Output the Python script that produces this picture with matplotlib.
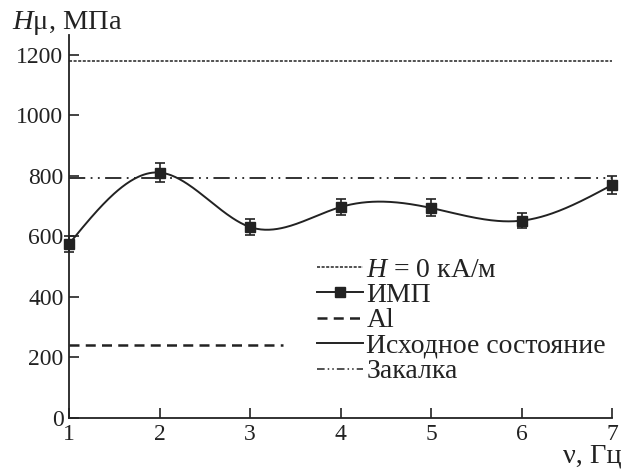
import numpy as np
import matplotlib.pyplot as plt
from matplotlib.lines import Line2D

plt.rcParams['font.family'] = ['Liberation Serif', 'DejaVu Serif']
plt.rcParams['mathtext.fontset'] = 'custom'
plt.rcParams['mathtext.rm'] = 'Liberation Serif'
plt.rcParams['mathtext.it'] = 'Liberation Serif:italic'
plt.rcParams['font.size'] = 17

# частота, Гц
freq = [1, 2, 3, 4, 5, 6, 7]
# микротвердость после ИМП, МПа
h_imp = [575, 811, 631, 697, 694, 652, 770]
h_err = [28, 31, 27, 26, 28, 25, 30]

h_zero = 1178      # H = 0 кА/м
h_quench = 792     # закалка
h_al = 241         # Al
al_range = [1, 3.36]

ink = '#222222'
big = 20.5


def natural_spline(x, y, xs):
    # натуральный кубический сплайн без scipy
    x = np.asarray(x, float)
    y = np.asarray(y, float)
    n = len(x)
    h = np.diff(x)
    A = np.zeros((n, n))
    b = np.zeros(n)
    A[0, 0] = A[-1, -1] = 1
    for i in range(1, n - 1):
        A[i, i - 1] = h[i - 1]
        A[i, i] = 2 * (h[i - 1] + h[i])
        A[i, i + 1] = h[i]
        b[i] = 3 * ((y[i + 1] - y[i]) / h[i] - (y[i] - y[i - 1]) / h[i - 1])
    c = np.linalg.solve(A, b)
    ys = np.empty_like(xs)
    for k, xv in enumerate(xs):
        i = min(max(np.searchsorted(x, xv) - 1, 0), n - 2)
        dx = xv - x[i]
        bi = (y[i + 1] - y[i]) / h[i] - h[i] * (2 * c[i] + c[i + 1]) / 3
        di = (c[i + 1] - c[i]) / (3 * h[i])
        ys[k] = y[i] + bi * dx + c[i] * dx ** 2 + di * dx ** 3
    return ys


fig = plt.figure(figsize=(6.23, 4.73), dpi=100)
ax = fig.add_axes([0.1108, 0.1163, 0.8716, 0.81])

xs = np.linspace(freq[0], freq[-1], 400)
ax.plot(xs, natural_spline(freq, h_imp, xs), color=ink, lw=1.4)
ax.errorbar(freq, h_imp, yerr=h_err, fmt='s', color=ink, ms=7,
            capsize=3.5, elinewidth=1.2, capthick=1.2, clip_on=False, zorder=5)

ax.plot([freq[0], freq[-1]], [h_zero, h_zero], color=ink, lw=1.1,
        dashes=(2, 1))
ax.plot([freq[0], freq[-1]], [h_quench, h_quench], color=ink, lw=1.3,
        dashes=(9, 3, 1, 3, 1, 3))
ax.plot(al_range, [h_al, h_al], color=ink, lw=1.8, dashes=(4, 2.5))

ax.set_xlim(1, 7)
ax.set_ylim(0, 1266)
ax.set_xticks(freq)
ax.set_yticks(range(0, 1201, 200))
ax.spines['top'].set_visible(False)
ax.spines['right'].set_visible(False)
for s in ('left', 'bottom'):
    ax.spines[s].set_color(ink)
    ax.spines[s].set_linewidth(1.3)
ax.tick_params(direction='in', length=7, width=1.2, colors=ink,
               labelcolor=ink, pad=4)

fig.text(0.02, 0.952, '$H$μ, МПа', ha='left', va='center', color=ink,
         fontsize=big)
fig.text(0.998, 0.036, 'ν, Гц', ha='right', va='center', color=ink,
         fontsize=big)

handles = [
    Line2D([], [], color=ink, lw=1.1, dashes=(2, 1)),
    Line2D([], [], color=ink, lw=1.4, marker='s', ms=7),
    Line2D([], [], color=ink, lw=1.8, dashes=(4, 2.5)),
    Line2D([], [], color=ink, lw=1.4),
    Line2D([], [], color=ink, lw=1.1, dashes=(5, 2, 1, 2, 1, 2)),
]
labels = ['$H$ = 0 кА/м', 'ИМП', 'Al', 'Исходное состояние', 'Закалка']
ax.legend(handles, labels, loc='upper left', bbox_to_anchor=(0.457, 0.42),
          frameon=False, handlelength=1.65, handletextpad=0.12,
          labelspacing=0.0, borderpad=0, borderaxespad=0,
          labelcolor=ink, fontsize=20)

fig.savefig('out.png', dpi=100)
